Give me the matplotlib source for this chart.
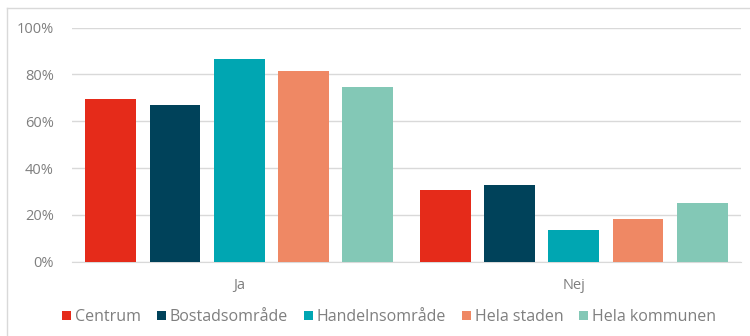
import matplotlib.pyplot as plt
import numpy as np
from matplotlib.lines import Line2D
from matplotlib.ticker import PercentFormatter

# answers per area, share of respondents (%)
categories = ["Ja", "Nej"]
series = ["Centrum", "Bostadsområde", "Handelnsområde", "Hela staden", "Hela kommunen"]
ja = [69.4, 67.1, 86.6, 81.6, 74.8]
nej = [30.6, 32.9, 13.4, 18.4, 25.2]
colors = ["#E52B1A", "#00425A", "#00A6B2", "#EF8864", "#83C8B6"]

plt.rcParams['font.family'] = ['Open Sans', 'DejaVu Sans']
grey = "#7F7F7F"

fig = plt.figure(figsize=(7.5, 3.36), dpi=100)
ax = fig.add_axes([0.096, 0.221, 0.892, 0.697])

x = np.arange(len(categories))
step = 0.192
width = 0.152
for i, name in enumerate(series):
    vals = [ja[i], nej[i]]
    ax.bar(x + (i - 2) * step, vals, width, color=colors[i], label=name, zorder=3)

ax.set_xlim(-0.5, 1.5)
ax.set_ylim(0, 100)
ax.set_yticks(range(0, 101, 20))
ax.yaxis.set_major_formatter(PercentFormatter(decimals=0))
ax.set_xticks(x)
ax.set_xticklabels(categories)
ax.grid(axis="y", color="#D9D9D9", linewidth=1, zorder=0)
for s in ["top", "right", "left"]:
    ax.spines[s].set_visible(False)
ax.spines["bottom"].set_color("#D9D9D9")
ax.tick_params(axis="both", length=0, colors=grey, labelsize=10.5)
ax.tick_params(axis="y", pad=13)
ax.tick_params(axis="x", pad=12)

fig.legend(loc="center", bbox_to_anchor=(0.519, 0.056), ncol=5, frameon=False,
           fontsize=11.5, labelcolor=grey, handlelength=0.55, handleheight=0.55,
           handletextpad=0.25, columnspacing=1.0)

# thin frame around the chart area
fig.add_artist(Line2D([7 / 750, 1], [1 - 8 / 336] * 2, color="#D9D9D9", lw=1))
fig.add_artist(Line2D([7 / 750] * 2, [0, 1 - 8 / 336], color="#D9D9D9", lw=1))

fig.savefig("out.png", dpi=100)
